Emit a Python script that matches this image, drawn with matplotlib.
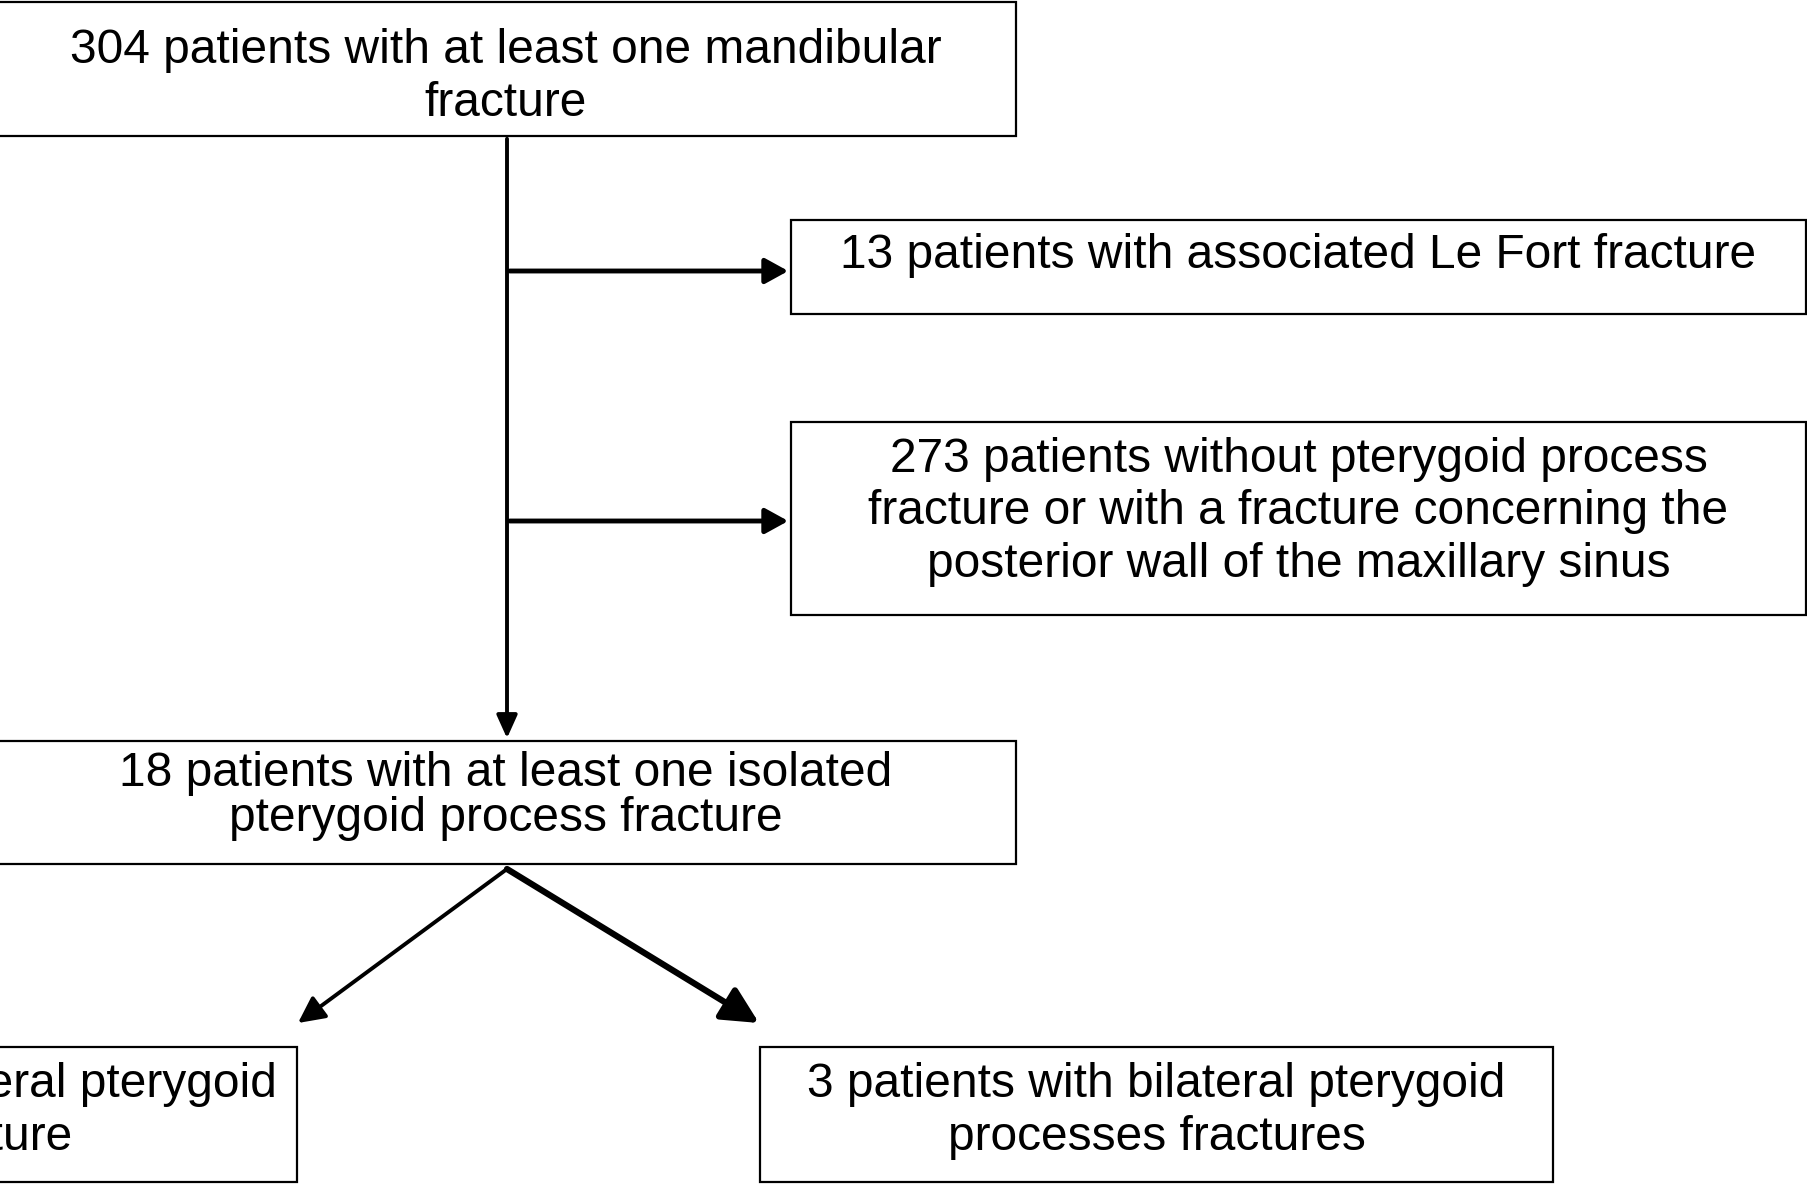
import matplotlib
matplotlib.use("Agg")
import matplotlib.pyplot as plt
from matplotlib.patches import Rectangle, FancyArrowPatch

# Flowchart content
box_texts = [
    "304 patients with at least one mandibular\nfracture",
    "13 patients with associated Le Fort fracture",
    "273 patients without pterygoid process\nfracture or with a fracture concerning the\nposterior wall of the maxillary sinus",
    "18 patients with at least one isolated\npterygoid process fracture",
    "15 patients with unilateral pterygoid\nprocess fracture",
    "3 patients with bilateral pterygoid\nprocesses fractures",
]
# box geometry in pixel coords: (x0, y0, x1, y1)
boxes = [
    (-5, 2, 1016, 136),
    (791, 220, 1806, 314),
    (791, 422, 1806, 615),
    (-5, 741, 1016, 864),
    (-496, 1047, 297, 1182),
    (760, 1047, 1553, 1182),
]
text_centers = [77, 255, 512, 796, 1111, 1111]
line_spacings = [1.22, 1.22, 1.22, 1.02, 1.22, 1.22]

W, H = 1808, 1184
fig = plt.figure(figsize=(W / 100, H / 100), dpi=100)
ax = fig.add_axes([0, 0, 1, 1])
ax.set_xlim(0, W)
ax.set_ylim(H, 0)
ax.axis("off")

font = "Liberation Sans"
for (x0, y0, x1, y1), t, ty, ls in zip(boxes, box_texts, text_centers, line_spacings):
    ax.add_patch(Rectangle((x0, y0), x1 - x0, y1 - y0, fill=False,
                           edgecolor="black", linewidth=1.6))
    ax.text((x0 + x1) / 2, ty, t, ha="center", va="center", fontsize=34.5,
            family=font, linespacing=ls, color="black")

# main vertical arrow
ax.add_patch(FancyArrowPatch((507, 136), (507, 741), arrowstyle="-|>,head_length=1.0,head_width=0.45",
                             mutation_scale=14, linewidth=2.8, color="black"))
# side arrows
for y in (271, 521):
    ax.add_patch(FancyArrowPatch((507, y), (791, y), arrowstyle="-|>,head_length=1.0,head_width=0.55",
                                 mutation_scale=14, linewidth=3.5, color="black"))
# diagonal arrows
ax.add_patch(FancyArrowPatch((507, 869), (298, 1023), arrowstyle="-|>,head_length=1.0,head_width=0.5",
                             mutation_scale=16, linewidth=2.8, color="black", shrinkA=0, shrinkB=0))
ax.add_patch(FancyArrowPatch((507, 869), (759, 1023), arrowstyle="-|>,head_length=1.0,head_width=0.5",
                             mutation_scale=22, linewidth=4.5, color="black", shrinkA=0, shrinkB=0))

fig.savefig("out.png", dpi=100, facecolor="white")
